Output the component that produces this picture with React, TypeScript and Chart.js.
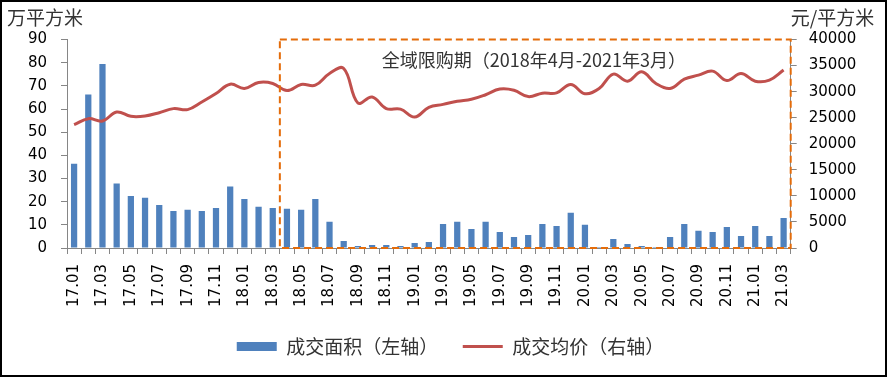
import { useEffect, useRef } from 'react';
import { Chart, registerables } from 'chart.js';

Chart.register(...registerables);

const months = [
  '17.01', '17.02', '17.03', '17.04', '17.05', '17.06', '17.07', '17.08', '17.09', '17.10', '17.11', '17.12',
  '18.01', '18.02', '18.03', '18.04', '18.05', '18.06', '18.07', '18.08', '18.09', '18.10', '18.11', '18.12',
  '19.01', '19.02', '19.03', '19.04', '19.05', '19.06', '19.07', '19.08', '19.09', '19.10', '19.11', '19.12',
  '20.01', '20.02', '20.03', '20.04', '20.05', '20.06', '20.07', '20.08', '20.09', '20.10', '20.11', '20.12',
  '21.01', '21.02', '21.03',
];

// 成交面积 (万平方米, left axis)
const areaValues = [
  36.4, 66.3, 79.4, 27.8, 22.5, 21.7, 18.6, 16.0, 16.5, 16.0, 17.3, 26.5,
  21.2, 17.8, 17.3, 16.9, 16.5, 21.2, 11.3, 3.0, 0.9, 1.3, 1.3, 0.9,
  2.2, 2.6, 10.4, 11.3, 8.2, 11.3, 6.9, 4.8, 5.6, 10.4, 9.5, 15.2,
  10.0, 0.4, 3.9, 1.7, 0.9, 0.4, 4.8, 10.4, 7.4, 6.9, 9.1, 5.2,
  9.5, 5.2, 13.0,
];

// 成交均价 (元/平方米, right axis)
const priceValues = [
  23650, 24810, 24360, 26090, 25260, 25320, 25960, 26740, 26550, 28010, 29630, 31430,
  30600, 31750, 31560, 30200, 31370, 31230, 33480, 34450, 27830, 28980, 26740, 26640,
  25120, 27000, 27550, 28150, 28530, 29400, 30500, 30270, 29050, 29700, 29750, 31370,
  29600, 30600, 33350, 32000, 33800, 31560, 30600, 32390, 33160, 33930, 32130, 33480,
  32000, 32200, 34130,
];

const seriesNames = ['成交面积（左轴）', '成交均价（右轴）'];
const leftTitle = '万平方米';
const rightTitle = '元/平方米';
const periodLabel = '全域限购期（2018年4月-2021年3月）';
const periodStartLabel = '18.04';

const NUM_FONT = '"DejaVu Sans", sans-serif';
const CJK_FONT = '"Noto Sans CJK SC", sans-serif';
const AXIS_GRAY = '#868686';
const TEXT_GRAY = '#333333';

const decorPlugin = {
  id: 'decor',
  beforeDraw(chart: any) {
    const ctx = chart.ctx;
    ctx.save();
    ctx.fillStyle = '#ffffff';
    ctx.fillRect(0, 0, chart.width, chart.height);
    ctx.restore();
  },
  afterDatasetsDraw(chart: any) {
    const ctx = chart.ctx;
    const x = chart.scales.x;
    const { top, bottom, right } = chart.chartArea;
    const startIdx = months.indexOf(periodStartLabel);
    const half = (x.getPixelForValue(1) - x.getPixelForValue(0)) / 2;
    const left = x.getPixelForValue(startIdx) - half;
    ctx.save();
    ctx.strokeStyle = '#E46C0A';
    ctx.lineWidth = 2;
    ctx.setLineDash([7, 4]);
    ctx.strokeRect(left, top, right - left, bottom - top);
    ctx.setLineDash([]);
    ctx.fillStyle = TEXT_GRAY;
    ctx.font = `18px ${CJK_FONT}`;
    ctx.textAlign = 'left';
    ctx.textBaseline = 'middle';
    ctx.fillText(periodLabel, left + 102, top + 21);
    ctx.restore();
  },
  afterDraw(chart: any) {
    const ctx = chart.ctx;
    ctx.save();
    ctx.fillStyle = TEXT_GRAY;
    ctx.font = `19px ${CJK_FONT}`;
    ctx.textBaseline = 'middle';
    ctx.textAlign = 'left';
    ctx.fillText(leftTitle, 7, 18);
    ctx.fillText(rightTitle, chart.chartArea.right, 18);
    ctx.strokeStyle = '#000000';
    ctx.lineWidth = 2;
    ctx.strokeRect(1, 1, chart.width - 2, chart.height - 2);
    ctx.restore();
  },
};

export default function App() {
  const canvasRef = useRef<HTMLCanvasElement | null>(null);

  useEffect(() => {
    if (!canvasRef.current) return;
    const chart = new Chart(canvasRef.current, {
      type: 'bar',
      data: {
        labels: months,
        datasets: [
          {
            type: 'bar',
            label: seriesNames[0],
            data: areaValues,
            backgroundColor: '#4F81BD',
            borderWidth: 0,
            barPercentage: 0.44,
            categoryPercentage: 1,
            yAxisID: 'y',
            order: 1,
          },
          {
            type: 'line',
            label: seriesNames[1],
            data: priceValues,
            borderColor: '#C0504D',
            backgroundColor: '#C0504D',
            borderWidth: 3,
            pointRadius: 0,
            tension: 0.4,
            yAxisID: 'y1',
            order: 0,
          },
        ],
      },
      options: {
        animation: false,
        responsive: false,
        maintainAspectRatio: false,
        layout: { padding: { top: 39.5, left: 14, right: 0, bottom: 11 } },
        plugins: {
          tooltip: { enabled: false },
          legend: {
            position: 'bottom',
            labels: {
              usePointStyle: true,
              pointStyleWidth: 40,
              boxWidth: 40,
              boxHeight: 9,
              padding: 24.5,
              color: TEXT_GRAY,
              font: { size: 19, family: CJK_FONT },
              sort: (a: any, b: any) => a.datasetIndex - b.datasetIndex,
              generateLabels: (chart: any) => {
                const items = Chart.defaults.plugins.legend.labels.generateLabels(chart);
                return items.map((it: any) => {
                  if (it.datasetIndex === 0) {
                    return { ...it, pointStyle: 'rect', lineWidth: 0, fillStyle: '#4F81BD' };
                  }
                  return { ...it, pointStyle: 'line', lineWidth: 3, strokeStyle: '#C0504D' };
                });
              },
            },
          },
        },
        scales: {
          x: {
            offset: true,
            grid: {
              display: true,
              offset: true,
              drawOnChartArea: false,
              drawTicks: true,
              tickLength: 6,
              color: AXIS_GRAY,
            },
            border: { display: true, color: AXIS_GRAY },
            ticks: {
              autoSkip: false,
              maxRotation: 90,
              minRotation: 90,
              padding: 10,
              color: '#000000',
              font: { size: 15, family: NUM_FONT },
              callback: (_v: any, idx: number) => (idx % 2 === 0 ? months[idx] : ''),
            },
            afterFit: (s: any) => {
              s.height = 64.5;
            },
          },
          y: {
            position: 'left',
            min: 0,
            max: 90,
            grid: { drawOnChartArea: false, drawTicks: true, tickLength: 6, color: AXIS_GRAY },
            border: { display: true, color: AXIS_GRAY },
            ticks: {
              stepSize: 10,
              padding: 14,
              color: '#000000',
              font: { size: 15, family: NUM_FONT },
            },
            afterFit: (s: any) => {
              s.width = 53;
            },
          },
          y1: {
            position: 'right',
            min: 0,
            max: 40000,
            grid: { drawOnChartArea: false, drawTicks: true, tickLength: 6, color: AXIS_GRAY },
            border: { display: true, color: AXIS_GRAY },
            ticks: {
              stepSize: 5000,
              padding: 12,
              color: '#000000',
              font: { size: 15, family: NUM_FONT },
              callback: (v: any) => String(v),
            },
            afterFit: (s: any) => {
              s.width = 96.3;
            },
          },
        },
      },
      plugins: [decorPlugin],
    } as any);
    return () => chart.destroy();
  }, []);

  return (
    <div style={{ position: 'fixed', left: 0, top: 0, width: 887, height: 377, background: '#fff' }}>
      <canvas ref={canvasRef} width={887} height={377} style={{ display: 'block', width: 887, height: 377 }} />
    </div>
  );
}
